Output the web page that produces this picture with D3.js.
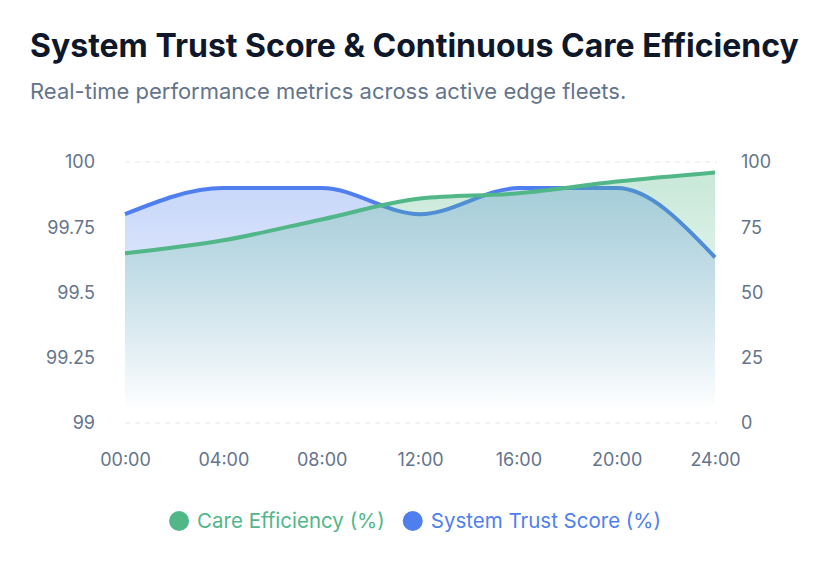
<!DOCTYPE html>
<html>
<head>
<meta charset="utf-8">
<script src="https://cdn.jsdelivr.net/npm/d3@7"></script>
<style>
  body { margin: 0; background: #fff; font-family: Inter, "Noto Sans", sans-serif; }
  .axis-label { fill: #64748b; font-size: 18px; }
</style>
</head>
<body>
<div id="chart"></div>
<script>
// hours of day and series values
const hours = [0, 4, 8, 12, 16, 20, 24];
const hourLabels = ['00:00', '04:00', '08:00', '12:00', '16:00', '20:00', '24:00'];
const trustScore = [99.8, 99.9, 99.9, 99.8, 99.9, 99.9, 99.635];
const careEfficiency = [65, 70, 78, 86, 88, 92.5, 96];
const leftTicks = [99, 99.25, 99.5, 99.75, 100];
const rightTicks = [0, 25, 50, 75, 100];

const width = 830, height = 562;
const margin = { top: 162, right: 115, bottom: 139, left: 125 };
const innerW = width - margin.left - margin.right;
const innerH = height - margin.top - margin.bottom;

const green = '#52b788';
const blue = '#4f7fee';

const svg = d3.select('#chart').append('svg')
    .attr('width', width)
    .attr('height', height);

// title + subtitle
svg.append('text')
    .attr('x', 30).attr('y', 57)
    .attr('fill', '#0f172a')
    .style('font-size', '32px').style('font-weight', 700)
    .text('System Trust Score & Continuous Care Efficiency');
svg.append('text')
    .attr('x', 30).attr('y', 99)
    .attr('fill', '#64748b')
    .style('font-size', '22px')
    .text('Real-time performance metrics across active edge fleets.');

// gradients for the areas
const defs = svg.append('defs');
function addGradient(id, colour) {
  const g = defs.append('linearGradient')
      .attr('id', id)
      .attr('x1', 0).attr('y1', 0).attr('x2', 0).attr('y2', 1);
  g.append('stop').attr('offset', '5%').attr('stop-color', colour).attr('stop-opacity', 0.3);
  g.append('stop').attr('offset', '95%').attr('stop-color', colour).attr('stop-opacity', 0);
}
addGradient('grad-blue', blue);
addGradient('grad-green', green);

const chart = svg.append('g')
    .attr('transform', `translate(${margin.left},${margin.top})`);

// scales
const x = d3.scaleLinear().domain([0, 24]).range([0, innerW]);
const yLeft = d3.scaleLinear().domain([99, 100]).range([innerH, 0]);
const yRight = d3.scaleLinear().domain([0, 100]).range([innerH, 0]);

// gridlines (dashed) - only the outer ones show through the fills
chart.append('g')
    .selectAll('line')
    .data(yLeft.domain())
    .join('line')
    .attr('x1', 0).attr('x2', innerW + 2)
    .attr('y1', d => yLeft(d)).attr('y2', d => yLeft(d))
    .attr('stroke', '#e2e8f0')
    .attr('stroke-width', 1.2)
    .attr('stroke-dasharray', '5,5');

// axes
const leftAxis = chart.append('g')
    .call(d3.axisLeft(yLeft).tickValues(leftTicks).tickSize(0).tickPadding(30).tickFormat(d3.format('')));
const rightAxis = chart.append('g')
    .attr('transform', `translate(${innerW},0)`)
    .call(d3.axisRight(yRight).tickValues(rightTicks).tickSize(0).tickPadding(26));
const bottomAxis = chart.append('g')
    .attr('transform', `translate(0,${innerH})`)
    .call(d3.axisBottom(x).tickValues(hours).tickSize(0).tickPadding(30)
        .tickFormat((d, i) => hourLabels[i]));
[leftAxis, rightAxis, bottomAxis].forEach(a => {
  a.select('.domain').remove();
  a.selectAll('text').attr('class', 'axis-label').attr('fill', null);
  a.attr('font-family', null).attr('font-size', null);
});

const trustData = hours.map((h, i) => ({ h, v: trustScore[i] }));
const careData = hours.map((h, i) => ({ h, v: careEfficiency[i] }));

// trust score (left axis)
const trustArea = d3.area()
    .curve(d3.curveMonotoneX)
    .x(d => x(d.h)).y0(innerH).y1(d => yLeft(d.v));
const trustLine = d3.line()
    .curve(d3.curveMonotoneX)
    .x(d => x(d.h)).y(d => yLeft(d.v));

// care efficiency (right axis)
const careArea = d3.area()
    .curve(d3.curveMonotoneX)
    .x(d => x(d.h)).y0(innerH).y1(d => yRight(d.v));
const careLine = d3.line()
    .curve(d3.curveMonotoneX)
    .x(d => x(d.h)).y(d => yRight(d.v));

chart.append('path').datum(trustData)
    .attr('d', trustArea).attr('fill', 'url(#grad-blue)');
chart.append('path').datum(trustData)
    .attr('d', trustLine).attr('fill', 'none')
    .attr('stroke', blue).attr('stroke-width', 4);
chart.append('path').datum(careData)
    .attr('d', careArea).attr('fill', 'url(#grad-green)');
chart.append('path').datum(careData)
    .attr('d', careLine).attr('fill', 'none')
    .attr('stroke', green).attr('stroke-width', 4);

// legend
const legendItems = [
  { label: 'Care Efficiency (%)', colour: green },
  { label: 'System Trust Score (%)', colour: blue },
];
const legend = svg.append('g').attr('transform', 'translate(0,521)');
const items = legend.selectAll('g')
    .data(legendItems)
    .join('g');
items.append('circle').attr('r', 10).attr('fill', d => d.colour);
items.append('text')
    .attr('x', 18).attr('dy', '0.35em')
    .attr('fill', d => d.colour)
    .style('font-size', '20.5px')
    .text(d => d.label);
// position items side by side, centered
const widths = [];
items.each(function() { widths.push(this.getBBox().width); });
const gap = 18;
const total = d3.sum(widths) + gap;
let lx = (width - total) / 2 + 10;
items.attr('transform', (d, i) => {
  const t = `translate(${lx},0)`;
  lx += widths[i] + gap;
  return t;
});
</script>
</body>
</html>
